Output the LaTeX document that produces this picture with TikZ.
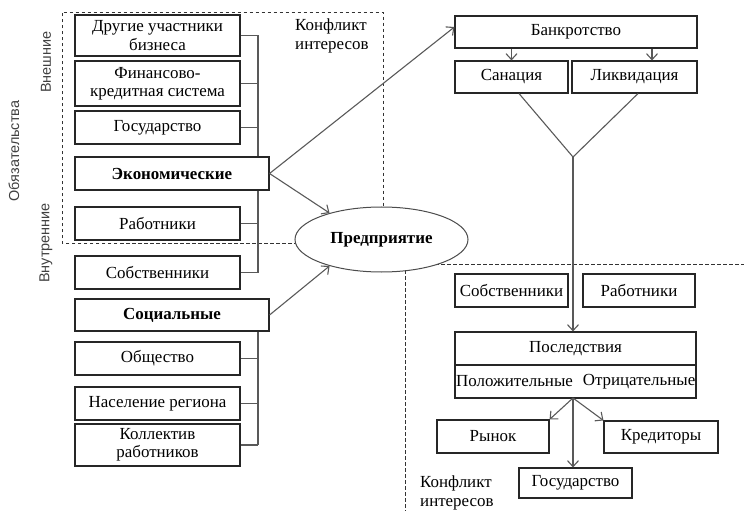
\documentclass[tikz,border=0pt]{standalone}
\usepackage{fontspec}
\setmainfont{Liberation Serif}
\newfontfamily\sansf{Liberation Sans}
\usetikzlibrary{arrows.meta,shapes.geometric,backgrounds}
\begin{document}
\begin{tikzpicture}[x=1bp,y=-1bp,
 box/.style={draw=black!85, line width=1.1bp, fill=white, minimum height=33bp, inner sep=0.5bp, align=center, font=\fontsize{17}{18.5}\selectfont},
 ln/.style={draw=black!65, line width=1.1bp},
 arr/.style={ln, -{Straight Barb[length=6bp,width=11bp]}},
 dsh/.style={draw=black!80, line width=0.8bp, dash pattern=on 3.5bp off 2.5bp},
 lab/.style={font=\fontsize{17}{18.5}\selectfont, align=left, inner sep=0bp},
 vlab/.style={font=\sansf\fontsize{14.5}{16}\selectfont, text=black!75, rotate=90, inner sep=0bp}]
\useasboundingbox (0,0) rectangle (744,511);

% left boxes
\node[box, minimum width=165bp, minimum height=41bp] (b1) at (157.5,35.5) {Другие участники\\бизнеса};
\node[box, minimum width=165bp, minimum height=45bp] (b2) at (157.5,83.5) {Финансово-\\кредитная система};
\node[box, minimum width=165bp] (b3) at (157.5,127.5) {Государство};
\node[box, minimum width=194bp, font=\fontsize{17}{18.5}\selectfont\bfseries] (b4) at (172,173.5) {Экономические};
\node[box, minimum width=165bp] (b5) at (157.5,223.5) {Работники};
\node[box, minimum width=165bp] (b6) at (157.5,272.5) {Собственники};
\node[box, minimum width=194bp, minimum height=32bp, font=\fontsize{17}{18.5}\selectfont\bfseries] (b7) at (172,315) {Социальные};
\node[box, minimum width=165bp] (b8) at (157.5,358.5) {Общество};
\node[box, minimum width=165bp] (b9) at (157.5,403.5) {Население региона};
\node[box, minimum width=165bp, minimum height=42bp] (b10) at (157.5,445) {Коллектив\\работников};

% rotated labels
\node[vlab] (v0) at (14,151) {Обязательства};
\node[vlab] (v1) at (46,62) {Внешние};
\node[vlab] (v2) at (46,243) {Внутренние};

% conflict labels
\node[lab, anchor=north west] (c1) at (295,19) {Конфликт\\интересов};
\node[lab, anchor=north west] (c2) at (420,476) {Конфликт\\интересов};

% enterprise
\node[ellipse, draw=black!70, line width=1bp, fill=white, minimum width=173bp, minimum height=65bp, inner sep=0bp, font=\fontsize{17}{18.5}\selectfont\bfseries] (ent) at (381.5,239.5) {Предприятие};

% right boxes
\node[box, minimum width=242bp, minimum height=32bp] (bank) at (576,32) {Банкротство};
\node[box, minimum width=113bp, minimum height=32bp] (san) at (511.5,77) {Санация};
\node[box, minimum width=125bp, minimum height=32bp] (liq) at (634.5,77) {Ликвидация};
\node[box, minimum width=113bp] (ownR) at (511.5,290.5) {Собственники};
\node[box, minimum width=112bp] (workR) at (639,290.5) {Работники};
\node[box, minimum width=241bp] (posl) at (575.5,348.5) {Последствия};
\node[box, minimum width=241bp] (posneg) at (575.5,381.5) {};
\node[lab, anchor=west] (pos) at ([xshift=1.5bp]posneg.west) {Положительные};
\node[lab, anchor=east] (neg) at ([xshift=-1bp]posneg.east) {Отрицательные};
\node[box, minimum width=112bp] (ryn) at (493,436.5) {Рынок};
\node[box, minimum width=114bp, minimum height=32bp] (kred) at (661,437) {Кредиторы};
\node[box, minimum width=113bp, minimum height=30bp] (gos) at (575.5,483) {Государство};

\coordinate (busT) at (258,36);
\coordinate (vpt) at (573,157);
\coordinate (split) at (573,398);
\coordinate (lq) at ([xshift=17.5bp]liq.north);
\coordinate (sq) at ([xshift=7.5bp]san.south);
\coordinate (lqs) at ([xshift=3.5bp]liq.south);

\begin{pgfonlayer}{background}
 % dashed frames
 \draw[dsh] (ent.center |- 0,243) -- (62,243) -- (62,12) -- (383,12) -- (383,239);
 \draw[dsh] (405,264) -- (744,264);
 \draw[dsh] (405,264) -- (405,511);
 % economic bus
 \draw[ln] (b1.east -| busT) -- (b6.east -| busT);
 \foreach \b in {b1,b2,b3,b5,b6} \draw[ln] (\b.east) -- (\b.east -| busT);
 % social bus
 \draw[ln] (b7.south -| busT) -- (b10.east -| busT);
 \foreach \b in {b8,b9,b10} \draw[ln] (\b.east) -- (\b.east -| busT);
 % vertical through split box
 \draw[ln] (vpt |- posl.south) -- (split);
\end{pgfonlayer}

% arrows from left
\draw[arr] (b4.east) -- ([yshift=5bp]bank.west);
\draw[arr] (b4.east) -- (ent.153);
\draw[arr] (b7.east) -- (ent.207);

% bankruptcy
\draw[arr] (bank.south -| san.north) -- (san.north);
\draw[arr] (bank.south -| lq) -- (lq);
\draw[ln] (sq) -- (vpt) -- (lqs);
\draw[arr] (vpt) -- (vpt |- posl.north);

% consequences
\draw[arr] (split) -- (ryn.north east);
\draw[arr] (split) -- (kred.north west);
\draw[arr] (split) -- (split |- gos.north);
\end{tikzpicture}
\end{document}
